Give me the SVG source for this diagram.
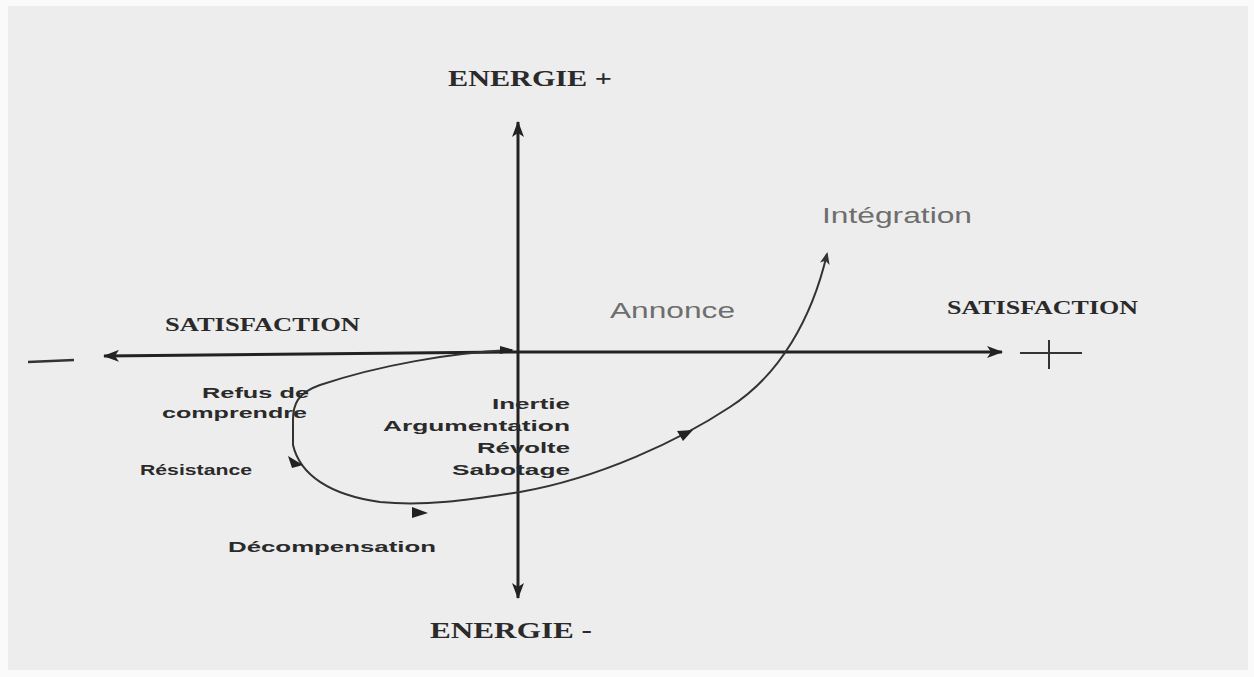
<svg xmlns="http://www.w3.org/2000/svg" width="1254" height="677" viewBox="0 0 1254 677">
<style>
.ser{font-family:"Liberation Serif","Times New Roman",serif;font-weight:bold;fill:#2a2a2a}
.lbl{font-family:"Liberation Sans",Arial,sans-serif;font-weight:bold;fill:#2a2a2a;font-size:15px}
.gry{font-family:"Liberation Sans",Arial,sans-serif;fill:#6e6e6e;font-size:22px}
.axis{stroke:#222;stroke-width:3;fill:none}
.curve{stroke:#333;stroke-width:2;fill:none}
.head{fill:#222}
</style>
<defs>
<marker id="ah" viewBox="0 0 16 12" refX="15" refY="6" markerWidth="16" markerHeight="12" markerUnits="userSpaceOnUse" orient="auto">
<path d="M0,0 L16,6 L0,12 L4,6 Z" fill="#222"/>
</marker>
<marker id="ch" viewBox="0 0 12 10" refX="10" refY="5" markerWidth="12" markerHeight="10" markerUnits="userSpaceOnUse" orient="auto">
<path d="M0,0 L12,5 L0,10 L3,5 Z" fill="#333"/>
</marker>
</defs>
<rect width="1254" height="677" fill="#fafafa"/>
<rect x="8" y="6" width="1240" height="664" fill="#ededed"/>

<g id="connectors">
<line class="axis" x1="518" y1="352" x2="518" y2="122" marker-end="url(#ah)"/>
<line class="axis" x1="518" y1="352" x2="518" y2="598" marker-end="url(#ah)"/>
<line class="axis" x1="518" y1="352" x2="104" y2="356" marker-end="url(#ah)"/>
<line class="axis" x1="518" y1="352" x2="1002" y2="352" marker-end="url(#ah)"/>
<line stroke="#333" stroke-width="2.5" x1="28" y1="362" x2="74" y2="360"/>
<line stroke="#333" stroke-width="2" x1="1020" y1="353" x2="1082" y2="353"/>
<line stroke="#333" stroke-width="2" x1="1049" y1="340" x2="1049" y2="369"/>
<path class="curve" d="M512 350 C450 353 380 365 320 385 C297 393 293 405 293 420 L293 445 C300 475 330 495 380 502 C430 507 480 498 520 492 C600 478 680 440 730 407 C780 375 812 318 827 254" marker-end="url(#ch)"/>
<path class="head" d="M500 346 L514 350 L500 354 Z"/>
<path class="head" d="M288 456 L303 465 L292 468 Z"/>
<path class="head" d="M412 507 L428 513 L412 518 Z"/>
<path class="head" d="M677 431 L693 430 L683 441 Z"/>
</g>

<g id="energie-plus"><text class="ser" x="448" y="86" font-size="24" textLength="164" lengthAdjust="spacingAndGlyphs">ENERGIE +</text></g>
<g id="energie-moins"><text class="ser" x="430" y="638" font-size="24" textLength="162" lengthAdjust="spacingAndGlyphs">ENERGIE -</text></g>
<g id="satisfaction-moins"><text class="ser" x="165" y="331" font-size="19" textLength="195" lengthAdjust="spacingAndGlyphs">SATISFACTION</text></g>
<g id="satisfaction-plus"><text class="ser" x="947" y="314" font-size="19" textLength="191" lengthAdjust="spacingAndGlyphs">SATISFACTION</text></g>
<g id="integration"><text class="gry" x="822" y="223" textLength="150" lengthAdjust="spacingAndGlyphs">Intégration</text></g>
<g id="annonce"><text class="gry" x="610" y="318" textLength="125" lengthAdjust="spacingAndGlyphs">Annonce</text></g>
<g id="refus">
<text class="lbl" x="202" y="398" textLength="107" lengthAdjust="spacingAndGlyphs">Refus de</text>
<text class="lbl" x="162" y="418" textLength="145" lengthAdjust="spacingAndGlyphs">comprendre</text>
</g>
<g id="resistance"><text class="lbl" x="140" y="475" textLength="112" lengthAdjust="spacingAndGlyphs">Résistance</text></g>
<g id="phase-centrale">
<text class="lbl" x="492" y="409" textLength="78" lengthAdjust="spacingAndGlyphs">Inertie</text>
<text class="lbl" x="383" y="431" textLength="187" lengthAdjust="spacingAndGlyphs">Argumentation</text>
<text class="lbl" x="477" y="453" textLength="93" lengthAdjust="spacingAndGlyphs">Révolte</text>
<text class="lbl" x="452" y="475" textLength="118" lengthAdjust="spacingAndGlyphs">Sabotage</text>
</g>
<g id="decompensation"><text class="lbl" x="228" y="552" textLength="208" lengthAdjust="spacingAndGlyphs">Décompensation</text></g>
</svg>
